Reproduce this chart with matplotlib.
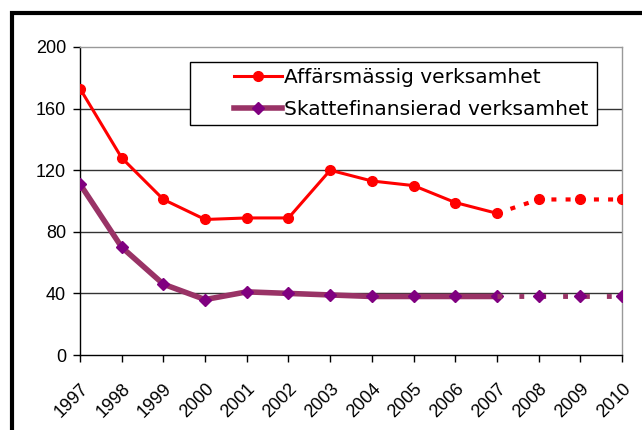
import matplotlib
matplotlib.use("Agg")
import matplotlib.pyplot as plt
from matplotlib.patches import Rectangle
from matplotlib.lines import Line2D

years = [1997, 1998, 1999, 2000, 2001, 2002, 2003, 2004, 2005, 2006, 2007, 2008, 2009, 2010]
affars = [173, 128, 101, 88, 89, 89, 120, 113, 110, 99, 92, 101, 101, 101]
skatt = [111, 70, 46, 36, 41, 40, 39, 38, 38, 38, 38, 38, 38, 38]
last_actual = 2007
yticks = [0, 40, 80, 120, 160, 200]

plt.rcParams['font.family'] = ['Liberation Sans', 'DejaVu Sans']

red = '#ff0000'
purple_line = '#993366'
purple_mark = '#800080'

fig = plt.figure(figsize=(6.42, 4.30), dpi=100)
ax = fig.add_axes([0.1246, 0.1744, 0.969 - 0.1246, 0.8907 - 0.1744])

k = years.index(last_actual) + 1
x = list(range(len(years)))

# solid history
ax.plot(x[:k], affars[:k], '-', color=red, lw=2.2, marker='o', ms=7,
        mfc=red, mec=red, zorder=4)
ax.plot(x[:k], skatt[:k], '-', color=purple_line, lw=4, marker='D', ms=6.5,
        mfc=purple_mark, mec=purple_mark, zorder=3)

# forecast part
ax.plot(x[k - 1:], affars[k - 1:], color=red, lw=3, ls=(0, (1.2, 2.2)),
        dash_capstyle='butt', zorder=4)
ax.plot(x[k:], affars[k:], 'o', color=red, ms=7, zorder=4)
ax.plot(x[k - 1:], skatt[k - 1:], color=purple_line, lw=3.5, ls=(0, (1.0, 3.5)),
        dash_capstyle='butt', zorder=3)
ax.plot(x[k:], skatt[k:], 'D', color=purple_mark, ms=6.5, zorder=3)

ax.set_xlim(0, len(years) - 1)
ax.set_ylim(0, 200)
ax.set_yticks(yticks)
ax.set_yticklabels([str(v) for v in yticks], fontsize=13)
ax.set_xticks(x)
ax.set_xticklabels([str(y) for y in years], rotation=45, ha='right',
                   rotation_mode='anchor', fontsize=13)
ax.tick_params(axis='x', length=5, width=1, direction='out', pad=13)
ax.tick_params(axis='y', length=5, width=1, direction='out', pad=5)

for v in yticks[1:-1]:
    ax.axhline(v, color='#333333', lw=1, zorder=1)

ax.spines['left'].set_color('black')
ax.spines['bottom'].set_color('black')
ax.spines['top'].set_color('#999999')
ax.spines['right'].set_color('#999999')
for s in ax.spines.values():
    s.set_linewidth(1)

# legend box drawn separately, entries placed inside it
ax.add_patch(Rectangle((0.203, 0.747), 0.751, 0.204, transform=ax.transAxes,
                       facecolor='white', edgecolor='black', lw=1, zorder=5,
                       clip_on=False))
handles = [
    Line2D([], [], color=red, lw=2.2, marker='o', ms=7, mfc=red, mec=red),
    Line2D([], [], color=purple_line, lw=4, marker='D', ms=6.5,
           mfc=purple_mark, mec=purple_mark),
]
leg = ax.legend(handles, ['Affärsmässig verksamhet', 'Skattefinansierad verksamhet'],
                loc='center left', bbox_to_anchor=(0.284, 0.849),
                prop={'family': 'DejaVu Sans', 'size': 14.5},
                frameon=False, borderpad=0, handlelength=2.4, handletextpad=0.1,
                labelspacing=0.6, borderaxespad=0)
leg.set_zorder(6)

# outer frame (display coords, origin bottom-left)
fig.patches.append(Rectangle((12, -100), 800, 430 - 13 + 100, transform=None,
                             fill=False, edgecolor='black', lw=3, zorder=10))

fig.savefig('out.png', dpi=100, facecolor='white')
